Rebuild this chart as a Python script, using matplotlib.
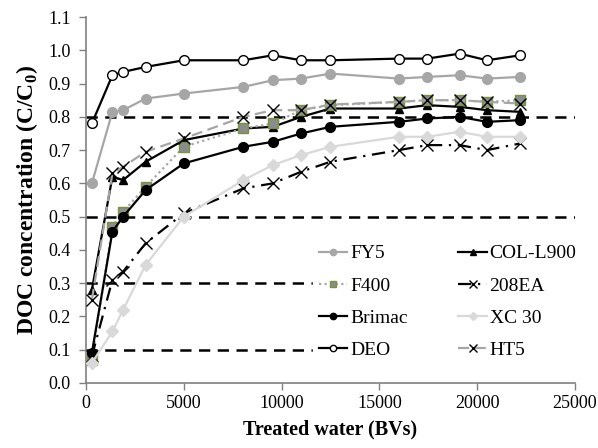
import numpy as np
import matplotlib
matplotlib.use('Agg')
import matplotlib.pyplot as plt

plt.rcParams['font.family'] = ['Liberation Serif', 'DejaVu Serif']
plt.rcParams['mathtext.fontset'] = 'custom'
plt.rcParams['mathtext.rm'] = 'Liberation Serif'
plt.rcParams['mathtext.bf'] = 'Liberation Serif:bold'

# treated water (BVs)
bvs = [300, 1350, 1900, 3050, 5000, 8050, 9550, 11000, 12500,
       16000, 17450, 19100, 20500, 22200]

fy5 = [0.60, 0.815, 0.82, 0.855, 0.87, 0.89, 0.91, 0.915, 0.93,
       0.915, 0.92, 0.925, 0.915, 0.92]
col_l900 = [0.28, 0.62, 0.61, 0.665, 0.73, 0.765, 0.77, 0.80, 0.825,
            0.825, 0.835, 0.83, 0.82, 0.815]
f400 = [0.07, 0.47, 0.515, 0.59, 0.71, 0.765, 0.78, 0.82, 0.835,
        0.845, 0.85, 0.85, 0.845, 0.85]
ea208 = [0.08, 0.31, 0.335, 0.42, 0.51, 0.585, 0.60, 0.635, 0.665,
         0.70, 0.715, 0.715, 0.70, 0.72]
brimac = [0.09, 0.455, 0.50, 0.58, 0.66, 0.71, 0.725, 0.75, 0.77,
          0.785, 0.795, 0.80, 0.785, 0.79]
xc30 = [0.06, 0.155, 0.22, 0.355, 0.50, 0.61, 0.655, 0.685, 0.71,
        0.74, 0.74, 0.755, 0.74, 0.74]
deo = [0.78, 0.925, 0.935, 0.95, 0.97, 0.97, 0.985, 0.97, 0.97,
       0.975, 0.975, 0.99, 0.97, 0.985]
ht5 = [0.25, 0.63, 0.65, 0.695, 0.735, 0.80, 0.82, 0.82, 0.837,
       0.845, 0.85, 0.85, 0.845, 0.84]

ref_levels = [0.8, 0.5, 0.3, 0.1]

fig = plt.figure(figsize=(5.98, 4.48), dpi=100)
ax = fig.add_axes([0.1438, 0.1451, 0.8177, 0.8169])

lw = 1.6
ms = 7
# dashed reference lines
for lv in ref_levels:
    ax.axhline(lv, color='black', lw=1.8, ls=(0, (4.5, 3)), zorder=1)

h_fy5, = ax.plot(bvs, fy5, color='#a6a6a6', lw=lw, marker='o', ms=ms,
                 mfc='#a6a6a6', mec='#a6a6a6', label='FY5', zorder=3)
h_col, = ax.plot(bvs, col_l900, color='black', lw=lw, marker='^', ms=ms - 1,
                 mfc='black', mec='black', label='COL-L900', zorder=3)
h_f400, = ax.plot(bvs, f400, color='#a6a6a6', lw=lw, ls=(0, (1, 1.5)),
                  marker='s', ms=ms, mfc='#8c8c8c', mec='#77933c', mew=1,
                  label='F400', zorder=3)
h_ea, = ax.plot(bvs, ea208, color='black', lw=lw, ls=(0, (6, 3, 1, 3)),
                marker='x', ms=ms + 1, mec='black', mew=1, label='208EA', zorder=3)
h_brim, = ax.plot(bvs, brimac, color='black', lw=lw, marker='o', ms=ms,
                  mfc='black', mec='black', label='Brimac', zorder=3)
h_xc, = ax.plot(bvs, xc30, color='#d9d9d9', lw=lw, marker='D', ms=ms - 1,
                mfc='#d9d9d9', mec='#d9d9d9', label='XC 30', zorder=3)
h_deo, = ax.plot(bvs, deo, color='black', lw=lw, marker='o', ms=ms,
                 mfc='white', mec='black', mew=1, label='DEO', zorder=3)
h_ht5, = ax.plot(bvs, ht5, color='#a6a6a6', lw=lw, ls=(0, (5, 2.5)),
                 marker='x', ms=ms + 1, mec='black', mew=1, label='HT5', zorder=3)

ax.set_xlim(0, 25000)
ax.set_ylim(0, 1.1)
ax.set_xticks(np.arange(0, 25001, 5000))
ax.set_yticks(np.arange(0, 1.101, 0.1))
ax.set_yticklabels(['%.1f' % v for v in np.arange(0, 1.101, 0.1)])

for s in ['top', 'right']:
    ax.spines[s].set_visible(False)
for s in ['left', 'bottom']:
    ax.spines[s].set_color('#808080')
    ax.spines[s].set_linewidth(1.2)
ax.tick_params(direction='out', length=5, width=1, color='#808080',
               labelsize=13)
ax.tick_params(axis='y', pad=6)
ax.tick_params(axis='x', pad=4)

ax.set_xlabel('Treated water (BVs)', fontsize=14.5, fontweight='bold', labelpad=5)
ax.set_ylabel(r'DOC concentration (C/C$_\mathbf{0}$)', fontsize=17,
              fontweight='bold', labelpad=6)

leg = ax.legend(handles=[h_fy5, h_f400, h_brim, h_deo, h_col, h_ea, h_xc, h_ht5],
                ncol=2, loc='upper left', bbox_to_anchor=(0.445, 0.42),
                frameon=True, fontsize=14, handlelength=1.45, handletextpad=0.15,
                columnspacing=2.6, labelspacing=0.75, markerscale=0.65,
                borderpad=0.3)
leg.get_frame().set_facecolor('white')
leg.get_frame().set_edgecolor('white')
leg.get_frame().set_alpha(1)
leg.set_zorder(5)

fig.savefig('out.png', dpi=100)
